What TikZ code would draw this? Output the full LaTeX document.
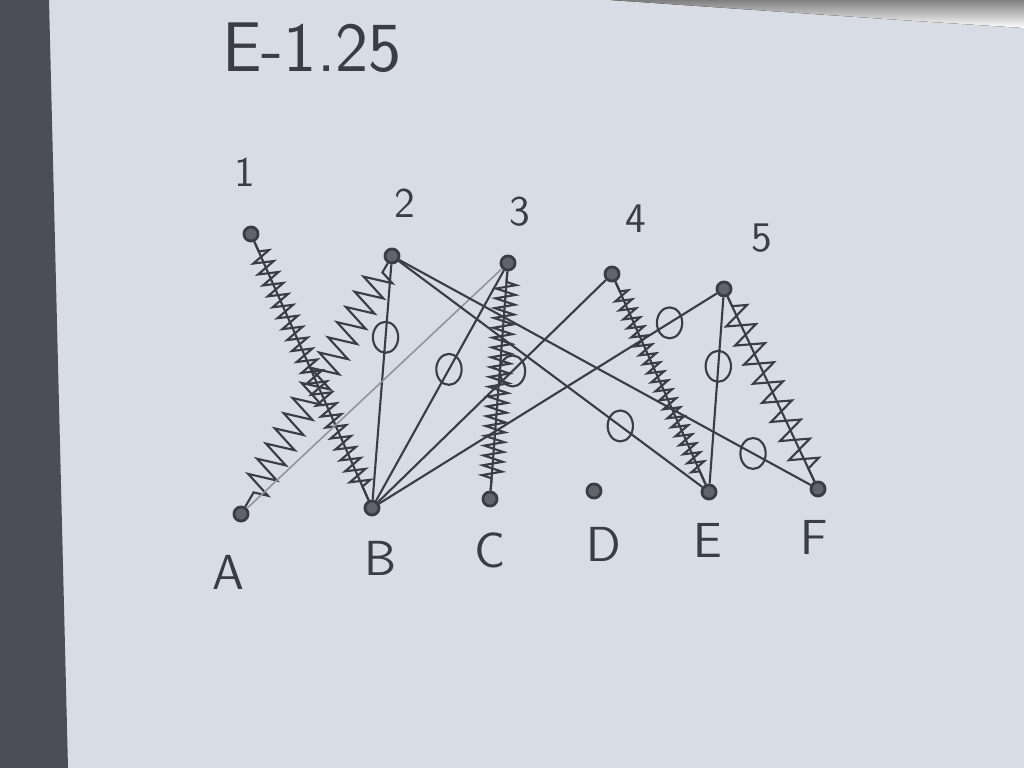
\documentclass[tikz,border=0pt]{standalone}
\usepackage{fontspec}
\usetikzlibrary{decorations.pathmorphing,shapes.geometric}
\definecolor{pencil}{HTML}{3A3D45}
\definecolor{paper}{HTML}{D8DCE5}
\definecolor{desk}{HTML}{4B4E56}
\definecolor{shade}{HTML}{1F2327}
\tikzset{
  vertex/.style={circle, fill=pencil!80, draw=pencil, line width=0.8pt, inner sep=0pt, minimum size=4pt},
  zeromark/.style={ellipse, draw=pencil, line width=0.6pt, inner sep=0pt, minimum width=7.2pt, minimum height=8.8pt},
  spring/.style 2 args={decorate, decoration={zigzag, amplitude=#1, segment length=#2, pre length=3pt, post length=3pt}},
  lbl/.style={text=pencil, font=\sffamily\fontsize{12}{14}\selectfont, inner sep=0pt},
  letter/.style={text=pencil, font=\sffamily\fontsize{14}{16}\selectfont, inner sep=0pt}
}
\begin{document}
\begin{tikzpicture}[x=0.01cm, y=-0.01cm, line width=0.6pt]
    \useasboundingbox (0,0) rectangle (1024,768);
    \fill[paper] (0,0) rectangle (1024,768);
    \fill[desk] (0,0) -- (49,0) -- (68,768) -- (0,768) -- cycle;
    \fill[shade] (610,0) -- (1024,0) -- (1024,28) -- (900,20) -- cycle;

    \node[lbl, font=\sffamily\fontsize{20}{22}\selectfont] (title) at (312,48) {E-1.25};

    \node[vertex] (v1) at (251,234) {};
    \node[vertex] (v2) at (392,256) {};
    \node[vertex] (v3) at (508,263) {};
    \node[vertex] (v4) at (612,274) {};
    \node[vertex] (v5) at (724,289) {};
    \node[vertex] (vA) at (241,514) {};
    \node[vertex] (vB) at (372,508) {};
    \node[vertex] (vC) at (490,499) {};
    \node[vertex] (vD) at (594,491) {};
    \node[vertex] (vE) at (709,492) {};
    \node[vertex] (vF) at (818,489) {};

    \node[lbl] (l1) at (245,172) {1};
    \node[lbl] (l2) at (405,203) {2};
    \node[lbl] (l3) at (520,212) {3};
    \node[lbl] (l4) at (636,219) {4};
    \node[lbl] (l5) at (762,238) {5};
    \node[letter] (lA) at (228,572) {A};
    \node[letter] (lB) at (380,558) {B};
    \node[letter] (lC) at (490,550) {C};
    \node[letter] (lD) at (604,544) {D};
    \node[letter] (lE) at (708,540) {E};
    \node[letter] (lF) at (814,537) {F};

    \draw[pencil] (v1) -- (vB);
    \draw[pencil, spring={2.8pt}{3.4pt}] (v1) -- (vB);
    \draw[pencil, spring={4pt}{5pt}] (v2) -- (vA);
    \draw[pencil] (v2) -- node[zeromark, pos=0.31] (m2B) {} (vB);
    \draw[pencil!55, line width=0.45pt] (v3) -- (vA);
    \draw[pencil] (v3) -- node[zeromark, pos=0.43] (m3B) {} (vB);
    \draw[pencil] (v3) -- (vC);
    \draw[pencil, spring={2.8pt}{2.8pt}] (v3) -- (vC);
    \draw[pencil] (v4) -- node[zeromark, pos=0.41] (m4B) {} (vB);
    \draw[pencil] (v5) -- node[zeromark, pos=0.14] (m5B) {} (vB);
    \draw[pencil] (v2) -- node[zeromark, pos=0.73] (m2E) {} (vE);
    \draw[pencil] (v2) -- node[zeromark, pos=0.86] (m2F) {} (vF);
    \draw[pencil] (v4) -- (vE);
    \draw[pencil, spring={2.3pt}{2.8pt}] (v4) -- (vE);
    \draw[pencil] (v5) -- node[zeromark, pos=0.37] (m5E) {} (vE);
    \draw[pencil] (v5) -- (vF);
    \draw[pencil, spring={4pt}{6pt}] (v5) -- (vF);
\end{tikzpicture}
\end{document}
